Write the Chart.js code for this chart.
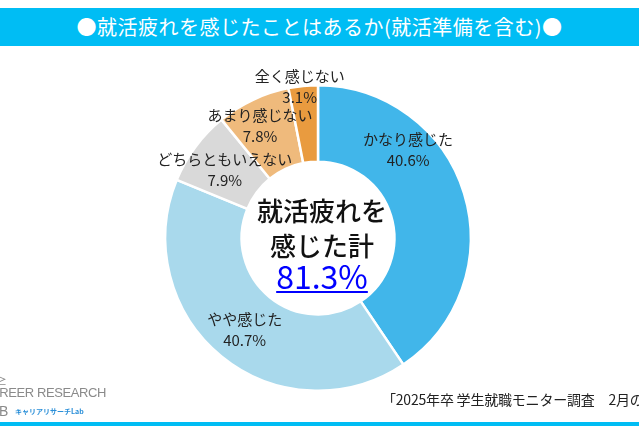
<!DOCTYPE html>
<html>
<head>
<meta charset="utf-8">
<script src="https://cdn.jsdelivr.net/npm/chart.js@4/dist/chart.umd.min.js"></script>
<style>
  body { margin:0; background:#fff; font-family:"Noto Sans CJK JP","Noto Sans",sans-serif; }
  #wrap { position:relative; width:639px; height:426px; overflow:hidden; }
  #title { position:absolute; left:0; top:8px; width:639px; height:38px; background:#00BDF4;
           color:#fff; font-size:20px; line-height:38px; text-align:center; letter-spacing:0.5px; }
  #bottomline { position:absolute; left:0; top:422px; width:639px; height:4px; background:#00BDF4; }
  #source { position:absolute; left:382px; top:389px; font-size:14px; color:#222; white-space:nowrap; letter-spacing:-0.2px; }
  #logo1 { position:absolute; left:-18px; top:385px; font-size:13px; color:#8a8a8a; white-space:nowrap; letter-spacing:-0.4px; font-family:"Liberation Sans",sans-serif; }
  #logo0 { position:absolute; left:-4px; top:372px; font-size:11px; color:#8a8a8a; }
  #logo2 { position:absolute; left:-18px; top:403px; font-size:14px; color:#8a8a8a; font-family:"Liberation Sans",sans-serif; }
  #logo3 { position:absolute; left:15px; top:406px; font-size:7px; color:#2a8fd8; font-weight:bold; white-space:nowrap; }
  canvas { position:absolute; left:0; top:0; }
</style>
</head>
<body>
<div id="wrap">
  <canvas id="grafico" width="639" height="426"></canvas>
  <div id="title">●就活疲れを感じたことはあるか(就活準備を含む)●</div>
  <div id="source">「2025年卒 学生就職モニター調査　2月の調査結果」</div>
  <div id="logo0">≥</div>
  <div id="logo1">CAREER RESEARCH</div>
  <div id="logo2">LAB</div>
  <div id="logo3">キャリアリサーチLab</div>
  <div id="bottomline"></div>
</div>
<script>

/* DADOS */

const categorias = ["かなり感じた","やや感じた","どちらともいえない","あまり感じない","全く感じない"]
const valores = [40.6, 40.7, 7.9, 7.8, 3.1]
const cores = ["#41B6EA","#A9D9EC","#D9D9D9","#EFBA7C","#E99B3F"]
const textoCentro = ["就活疲れを","感じた計"]
const totalCentro = "81.3%"


/* POSICAO DOS ROTULOS (fracao do raio externo) */

const posRotulos = [[0.59,-0.58],[-0.48,0.60],[-0.61,-0.45],[-0.38,-0.74],[-0.12,-0.99]]


/* PLUGIN ROTULOS + TEXTO CENTRAL */

const rotulos = {
    id:"rotulos",
    afterDatasetsDraw(chart){
        const ctx = chart.ctx
        const arcs = chart.getDatasetMeta(0).data
        const cx = arcs[0].x
        const cy = arcs[0].y
        const r = arcs[0].outerRadius
        ctx.save()
        ctx.textAlign = "center"
        ctx.textBaseline = "middle"
        ctx.fillStyle = "#222"
        ctx.font = "15px 'Noto Sans CJK JP'"
        arcs.forEach((a,i) => {
            const x = cx + posRotulos[i][0]*r
            const y = cy + posRotulos[i][1]*r
            ctx.fillText(categorias[i], x, y-10)
            ctx.fillText(valores[i].toFixed(1)+"%", x, y+11)
        })

        /* centro */
        ctx.fillStyle = "#111"
        ctx.font = "500 26px 'Noto Sans CJK JP'"
        ctx.fillText(textoCentro[0], cx+4, cy-27)
        ctx.fillText(textoCentro[1], cx+4, cy+8)
        ctx.fillStyle = "#0000FF"
        ctx.font = "32px 'Noto Sans CJK JP'"
        ctx.fillText(totalCentro, cx+4, cy+39)
        const w = ctx.measureText(totalCentro).width
        ctx.fillRect(cx+4-w/2, cy+53, w, 2)
        ctx.restore()
    }
}


/* GRAFICO */

new Chart(document.getElementById("grafico"),{

    type:"doughnut",

    data:{
        labels:categorias,
        datasets:[{
            data:valores,
            backgroundColor:cores,
            borderColor:"#ffffff",
            borderWidth:2.5
        }]
    },

    options:{
        responsive:false,
        animation:false,
        cutout:"50%",
        layout:{ padding:{ top:84, bottom:34, left:0, right:3 } },
        plugins:{
            legend:{ display:false },
            tooltip:{ enabled:false }
        }
    },

    plugins:[rotulos]

})

</script>
</body>
</html>
